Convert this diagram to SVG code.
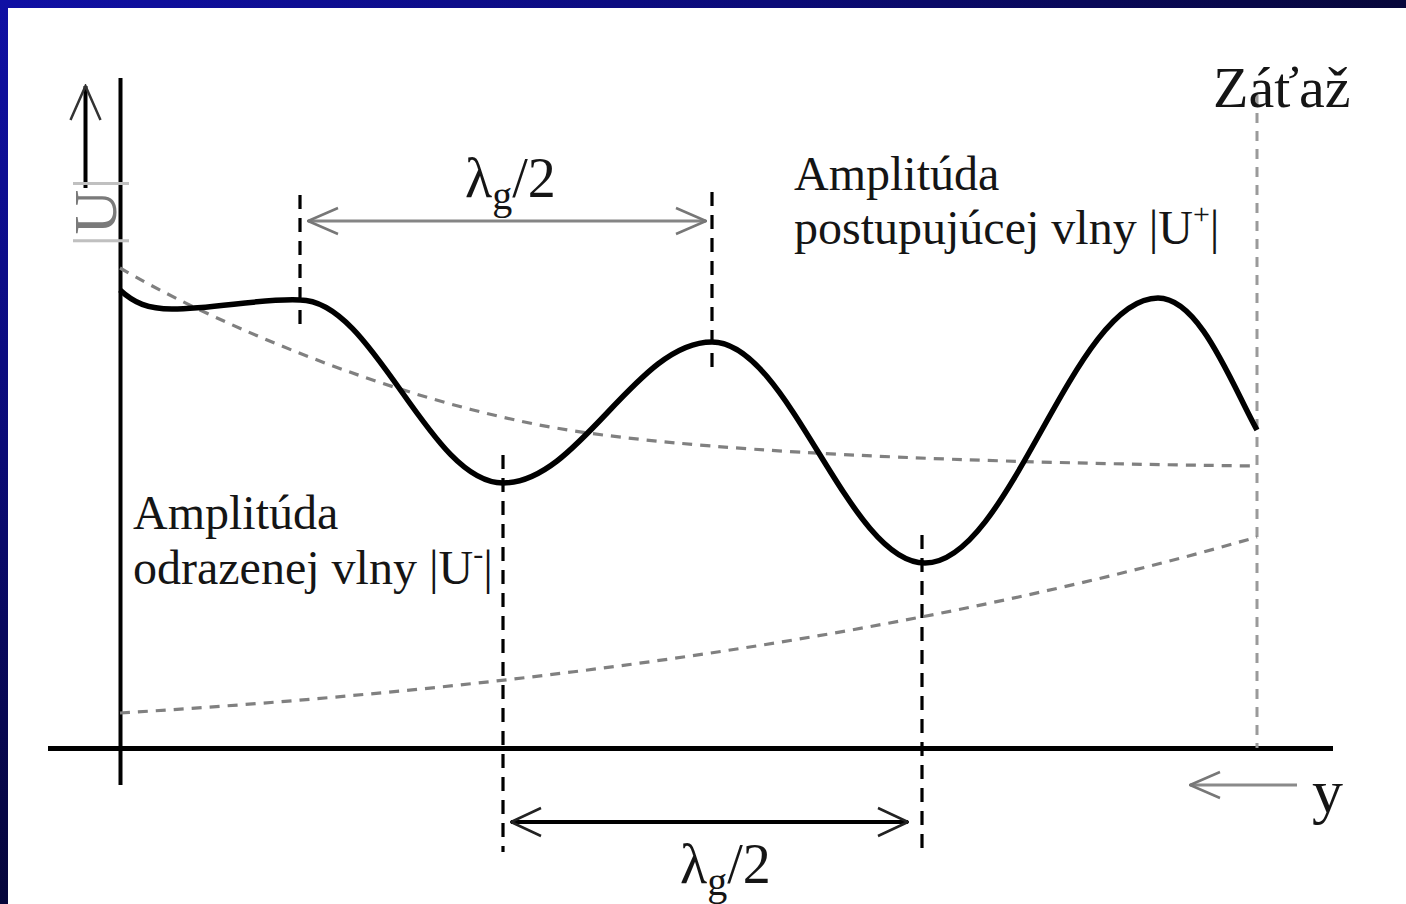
<svg xmlns="http://www.w3.org/2000/svg" width="1406" height="904" viewBox="0 0 1406 904">
<defs>
<linearGradient id="gTop" x1="0" y1="0" x2="1406" y2="0" gradientUnits="userSpaceOnUse">
<stop offset="0" stop-color="#1010a4"/><stop offset="0.55" stop-color="#0b0b78"/><stop offset="1" stop-color="#07073a"/>
</linearGradient>
<linearGradient id="gLeft" x1="0" y1="0" x2="0" y2="904" gradientUnits="userSpaceOnUse">
<stop offset="0" stop-color="#1010a4"/><stop offset="0.5" stop-color="#0b0b76"/><stop offset="1" stop-color="#06063a"/>
</linearGradient>
<marker id="ahGray" viewBox="0 0 32 30" refX="31" refY="15" markerWidth="32" markerHeight="30" markerUnits="userSpaceOnUse" orient="auto-start-reverse">
<path d="M1,2 L31,15 L1,28" fill="none" stroke="#777" stroke-width="2.5"/>
</marker>
<marker id="ahBlack" viewBox="0 0 32 32" refX="31" refY="16" markerWidth="32" markerHeight="32" markerUnits="userSpaceOnUse" orient="auto-start-reverse">
<path d="M1,2 L31,16 L1,30" fill="none" stroke="#222" stroke-width="2.5"/>
</marker>
<marker id="ahUp" viewBox="0 0 36 40" refX="18" refY="2" markerWidth="36" markerHeight="40" markerUnits="userSpaceOnUse" orient="0">
<path d="M3,36 L18,2 L33,36" fill="none" stroke="#333" stroke-width="2.5"/>
</marker>
</defs>
<style>
.t{font-family:"Liberation Serif","Times New Roman",serif;fill:#151515}
.lbl{font-size:48px}
.axis{stroke:#000;fill:none}
.vd{stroke:#000;stroke-width:3.2;stroke-dasharray:14 9;fill:none}
.gd{stroke:#808080;stroke-width:3.2;stroke-dasharray:10 8;fill:none}
</style>
<rect x="0" y="0" width="1406" height="904" fill="#fff"/>
<rect x="0" y="0" width="1406" height="8" fill="url(#gTop)"/>
<rect x="0" y="0" width="8" height="904" fill="url(#gLeft)"/>

<g id="connectors">
<line class="axis" x1="120.5" y1="78" x2="120.5" y2="785" stroke-width="4"/>
<line class="axis" x1="48" y1="748.5" x2="1333" y2="748.5" stroke-width="5"/>
<line x1="85.5" y1="188" x2="85.5" y2="86" stroke="#000" stroke-width="4" marker-end="url(#ahUp)"/>
<line class="vd" x1="300" y1="195" x2="300" y2="333"/>
<line class="vd" x1="712" y1="192" x2="712" y2="372"/>
<line class="vd" x1="503" y1="455" x2="503" y2="852"/>
<line class="vd" x1="922" y1="535" x2="922" y2="852"/>
<line x1="1257" y1="95" x2="1257" y2="748" stroke="#9a9a9a" stroke-width="3" stroke-dasharray="10 8"/>
<path class="gd" d="M120,268 C200,315 360,387 520,421 C640,448 900,462 1257,466"/>
<path class="gd" d="M120,713 C500,690 900,640 1257,537"/>
<path fill="none" stroke="#000" stroke-width="5.5" d="M120,290 C134,303 148,309 172,309 C215,309 262,298 300,300 C374,300 429,483 503,483 C579,483 636,342 712,342 C789,342 848,563 925,563 C1010,563 1073,298 1158,298 C1200,298 1232,385 1257,430"/>
<line x1="308" y1="221" x2="706" y2="221" stroke="#858585" stroke-width="3" marker-start="url(#ahGray)" marker-end="url(#ahGray)"/>
<line x1="511" y1="822" x2="908" y2="822" stroke="#000" stroke-width="4" marker-start="url(#ahBlack)" marker-end="url(#ahBlack)"/>
<line x1="1297" y1="785" x2="1190" y2="785" stroke="#8a8a8a" stroke-width="3" marker-end="url(#ahGray)"/>
</g>

<g id="label-U">
<text class="t" transform="translate(116,247) rotate(-90)" font-size="62" fill="#888"><tspan fill="#c0c0c0">|</tspan><tspan fill="#7a7a7a">U</tspan><tspan fill="#c0c0c0">|</tspan></text>
</g>
<g id="label-lambda-top">
<text class="t" x="465" y="197" font-size="56">λ<tspan font-size="40" dy="12">g</tspan><tspan dy="-12">/2</tspan></text>
</g>
<g id="label-lambda-bottom">
<text class="t" x="680" y="883" font-size="56">λ<tspan font-size="40" dy="12">g</tspan><tspan dy="-12">/2</tspan></text>
</g>
<g id="label-zataz">
<text class="t" x="1213" y="107" font-size="58">Záťaž</text>
</g>
<g id="label-forward">
<text class="t lbl" x="794" y="190">Amplitúda</text>
<text class="t lbl" x="794" y="244">postupujúcej vlny |U<tspan font-size="30" dy="-20">+</tspan><tspan dy="20">|</tspan></text>
</g>
<g id="label-reflected">
<text class="t lbl" x="133" y="529">Amplitúda</text>
<text class="t lbl" x="133" y="584">odrazenej vlny |U<tspan font-size="30" dy="-20">-</tspan><tspan dy="20">|</tspan></text>
</g>
<g id="label-y">
<text class="t" x="1312" y="812" font-size="62">y</text>
</g>
</svg>
